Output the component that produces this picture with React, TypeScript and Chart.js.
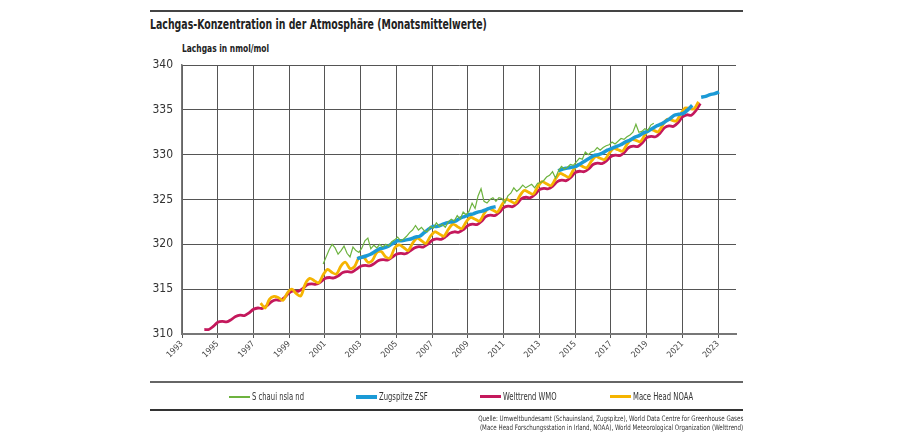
import React, { useEffect, useRef } from 'react';
import { Chart, registerables } from 'chart.js';

Chart.register(...registerables);

const FONT = '"Liberation Sans Narrow", "DejaVu Sans Condensed", Roboto, sans-serif';

// x axis: years, labels every two years
const xTickYears = [1993, 1995, 1997, 1999, 2001, 2003, 2005, 2007, 2009, 2011, 2013, 2015, 2017, 2019, 2021, 2023];
const yTicks = [310, 315, 320, 325, 330, 335, 340];

// Welttrend WMO, quarterly from 1994.25
const wmoStart = 1994.25;
const wmoValues = [
  310.5, 310.5, 310.85,
  311.3, 311.4, 311.35, 311.6,
  311.95, 312.1, 312.05, 312.35,
  312.75, 312.9, 312.85, 313.15,
  313.6, 313.8, 313.75, 314.1,
  314.6, 314.8, 314.75, 315.05,
  315.5, 315.6, 315.55, 315.8,
  316.2, 316.3, 316.25, 316.5,
  316.85, 316.95, 316.9, 317.2,
  317.55, 317.65, 317.6, 317.85,
  318.2, 318.3, 318.25, 318.55,
  318.9, 319.0, 318.95, 319.25,
  319.6, 319.75, 319.7, 320.0,
  320.45, 320.6, 320.55, 320.85,
  321.25, 321.4, 321.35, 321.65,
  322.1, 322.25, 322.2, 322.55,
  323.1, 323.25, 323.2, 323.55,
  324.1, 324.25, 324.2, 324.55,
  325.1, 325.25, 325.2, 325.55,
  326.1, 326.25, 326.2, 326.5,
  327.0, 327.15, 327.1, 327.45,
  328.0, 328.15, 328.1, 328.4,
  328.9, 329.05, 329.0, 329.3,
  329.8, 329.95, 329.9, 330.25,
  330.8, 330.95, 330.9, 331.3,
  331.9, 332.05, 332.0, 332.4,
  333.0, 333.2, 333.15, 333.55,
  334.2, 334.45, 334.4, 334.9,
  335.7,
];

// Mace Head NOAA, quarterly from 1997.4
const maceStart = 1997.4;
const maceValues = [
  313.45, 312.9, 313.9,
  314.2, 314.05, 313.75, 314.6,
  315.0, 314.5, 314.25, 315.6,
  316.2, 315.95, 315.7, 316.6,
  317.2, 316.85, 316.7, 317.6,
  318.0, 317.3, 317.5, 318.5,
  318.6, 318.0, 318.2, 319.1,
  319.2, 318.6, 318.5, 319.6,
  319.95, 319.65, 319.3, 320.1,
  320.7, 320.4, 320.1, 320.9,
  321.4, 321.15, 320.9, 321.65,
  322.25, 322.0, 321.75, 322.5,
  323.0, 322.8, 322.6, 323.4,
  324.0, 323.8, 323.6, 324.4,
  325.0, 324.8, 324.6, 325.4,
  326.0, 325.8, 325.6, 326.4,
  327.0, 326.75, 326.55, 327.3,
  327.9, 327.7, 327.5, 328.3,
  328.9, 328.7, 328.55, 329.25,
  329.8, 329.6, 329.45, 330.15,
  330.7, 330.55, 330.4, 331.15,
  331.7, 331.6, 331.45, 332.2,
  332.8, 332.7, 332.55, 333.3,
  333.95, 333.85, 333.75, 334.5,
  335.2, 335.15, 335.1, 335.9,
];

// Zugspitze ZSF, quarterly from 2002.8 (null = no data)
const zugStart = 2002.8;
const zugValues = [
  318.4, 318.55, 318.7, 318.9, 319.2, 319.5, 319.6, 319.8, 320.1, 320.4,
  320.4, 320.5, 320.6, 320.8, 320.9, 321.3, 321.7, 322.0, 322.0, 322.2,
  322.4, 322.5, 322.6, 322.9, 323.1, 323.3, 323.4, 323.6, 323.7, 323.9,
  324.1, 324.2,
  null, null, null, null, null, null, null, null, null, null, null, null, null,
  328.2, 328.4, 328.5, 328.6, 328.7, 329.0, 329.3, 329.6, 329.9, 330.0,
  330.2, 330.5, 330.7, 330.9, 331.1, 331.4, 331.6, 331.9, 332.1, 332.4,
  332.6, 332.9, 333.2, 333.4, 333.7, 334.0, 334.4, 334.5, 334.6, 335.0,
  335.5, null, 336.4, 336.5, 336.7, 336.8, 337.0,
];

// Schauinsland, every two months from 2000.9
const schStart = 2000.9;
const schValues = [
  317.8, 318.6, 319.4, 320.0, 319.6, 318.9, 319.3, 319.8, 319.0, 318.6,
  319.7, 319.3, 319.1, 319.6, 320.4, 320.7, 319.5, 319.9, 319.6, 320.0,
  319.7, 320.0, 319.8, 320.3, 320.5, 320.8, 320.4, 320.6, 320.9, 321.3,
  321.6, 322.1, 321.6, 321.9, 321.5, 321.4, 322.0, 321.8, 322.4, 322.0,
  322.2, 321.9, 322.5, 322.8, 322.6, 323.2, 322.8, 323.6, 323.3, 323.7,
  324.6, 324.0, 325.4, 326.2, 324.8, 324.6, 325.0, 325.2, 324.8, 325.2,
  325.1, 324.6, 325.4, 325.7, 326.3, 325.9, 326.2, 326.6, 326.3, 326.5,
  326.7, 326.3, 326.8, 326.9, 327.1, 327.5, 327.7, 328.1, 327.4, 328.2,
  328.7, 328.4, 328.6, 328.9, 328.8, 329.2, 329.6, 329.5, 330.3, 330.0,
  330.3, 330.4, 330.8, 330.5, 330.8, 331.0, 331.1, 331.4, 331.2, 331.5,
  331.8, 331.7, 332.0, 332.2, 332.5, 333.4, 332.5, 332.6, 332.9, 332.7,
  333.3, 333.5,
];

const GREEN = '#6db33f';
const BLUE = '#1b9ad6';
const CRIMSON = '#c4185c';
const YELLOW = '#f5b400';

const toPoints = (start: number, step: number, values: (number | null)[]) =>
  values.map((v, i) => ({ x: start + i * step, y: v }));

const legendItems = [
  { label: 'S chaui nsla nd', color: GREEN, width: 2, left: 229 },
  { label: 'Zugspitze ZSF', color: BLUE, width: 4, left: 356 },
  { label: 'Welttrend WMO', color: CRIMSON, width: 3.5, left: 480 },
  { label: 'Mace Head NOAA', color: YELLOW, width: 3.5, left: 610 },
];

// the original uses a narrow face; squeeze the fallback font to the same width
const narrow = (k: number, origin = 'left'): React.CSSProperties => ({
  display: 'inline-block',
  transform: `scaleX(${k})`,
  transformOrigin: origin,
  whiteSpace: 'nowrap',
});

const Rule: React.FC<{ top: number; h: number; color: string }> = ({ top, h, color }) => (
  <div style={{ position: 'absolute', left: 150, width: 593, top, height: h, background: color }} />
);

const N2OChart: React.FC = () => {
  const canvasRef = useRef<HTMLCanvasElement | null>(null);
  const chartRef = useRef<Chart | null>(null);

  useEffect(() => {
    if (!canvasRef.current) return;
    if (chartRef.current) chartRef.current.destroy();

    const line = (label: string, data: any[], color: string, width: number, order: number, tension: number) => ({
      label,
      data,
      borderColor: color,
      backgroundColor: color,
      borderWidth: width,
      pointRadius: 0,
      tension,
      spanGaps: false,
      order,
    });

    chartRef.current = new Chart(canvasRef.current, {
      type: 'line',
      data: {
        datasets: [
          line('S chaui nsla nd', toPoints(schStart, 1 / 6, schValues), GREEN, 1.2, 0, 0),
          line('Zugspitze ZSF', toPoints(zugStart, 0.25, zugValues), BLUE, 3.5, 1, 0.2),
          line('Mace Head NOAA', toPoints(maceStart, 0.25, maceValues), YELLOW, 2.8, 2, 0.3),
          line('Welttrend WMO', toPoints(wmoStart, 0.25, wmoValues), CRIMSON, 2.8, 3, 0.3),
        ],
      },
      options: {
        responsive: false,
        animation: false,
        layout: { padding: { top: 65, right: 164, bottom: 0, left: 0 } },
        plugins: { legend: { display: false }, tooltip: { enabled: false } },
        scales: {
          x: {
            type: 'linear',
            min: 1993,
            max: 2024,
            afterBuildTicks: (scale: any) => {
              scale.ticks = xTickYears.map((v) => ({ value: v }));
            },
            afterFit: (scale: any) => {
              scale.height = 101;
            },
            ticks: {
              minRotation: 45,
              maxRotation: 45,
              autoSkip: false,
              color: '#444',
              font: { family: FONT, size: 8.5 },
              padding: 1,
              callback: (v: any) => String(v),
            },
            grid: { color: '#555', lineWidth: 1, tickLength: 4, drawTicks: true },
            border: { color: '#777', width: 2 },
          },
          y: {
            min: 310,
            max: 340,
            afterBuildTicks: (scale: any) => {
              scale.ticks = yTicks.map((v) => ({ value: v }));
            },
            afterFit: (scale: any) => {
              scale.width = 182;
            },
            ticks: {
              color: '#333',
              font: { family: FONT, size: 12 },
              padding: 9,
            },
            grid: { color: '#555', lineWidth: 1, drawTicks: false },
            border: { color: '#777', width: 1.5 },
          },
        },
      },
    } as any);

    return () => {
      if (chartRef.current) {
        chartRef.current.destroy();
        chartRef.current = null;
      }
    };
  }, []);

  return <canvas ref={canvasRef} width={900} height={435} style={{ position: 'absolute', left: 0, top: 0 }} />;
};

export default function App() {
  return (
    <div
      style={{
        position: 'fixed',
        left: 0,
        top: 0,
        width: 900,
        height: 435,
        background: '#fff',
        fontFamily: FONT,
        color: '#222',
        overflow: 'hidden',
      }}
    >
      <Rule top={10} h={2} color="#444" />
      <div style={{ position: 'absolute', left: 150, top: 16, fontSize: 14.5, fontWeight: 'bold' }}>
        <span style={narrow(0.72)}>Lachgas-Konzentration in der Atmosphäre (Monatsmittelwerte)</span>
      </div>
      <div style={{ position: 'absolute', left: 182, top: 42, fontSize: 11, fontWeight: 'bold' }}>
        <span style={narrow(0.76)}>Lachgas in nmol/mol</span>
      </div>
      <N2OChart />
      <Rule top={381} h={1.5} color="#666" />
      {legendItems.map((it) => (
        <div
          key={it.label}
          style={{ position: 'absolute', left: it.left, top: 391, display: 'flex', alignItems: 'center', fontSize: 10, color: '#333', whiteSpace: 'nowrap' }}
        >
          <span style={{ display: 'inline-block', width: 21, height: it.width, background: it.color, marginRight: 2 }} />
          <span style={narrow(0.76)}>{it.label}</span>
        </div>
      ))}
      <Rule top={409} h={2} color="#333" />
      <div
        style={{
          position: 'absolute',
          right: 900 - 743,
          top: 414,
          fontSize: 7.5,
          lineHeight: '9px',
          textAlign: 'right',
          color: '#333',
          transform: 'scaleX(0.82)',
          transformOrigin: 'right',
          whiteSpace: 'nowrap',
        }}
      >
        Quelle: Umweltbundesamt (Schauinsland, Zugspitze), World Data Centre for Greenhouse Gases
        <br />
        (Mace Head Forschungsstation in Irland, NOAA), World Meteorological Organization (Welttrend)
      </div>
    </div>
  );
}
